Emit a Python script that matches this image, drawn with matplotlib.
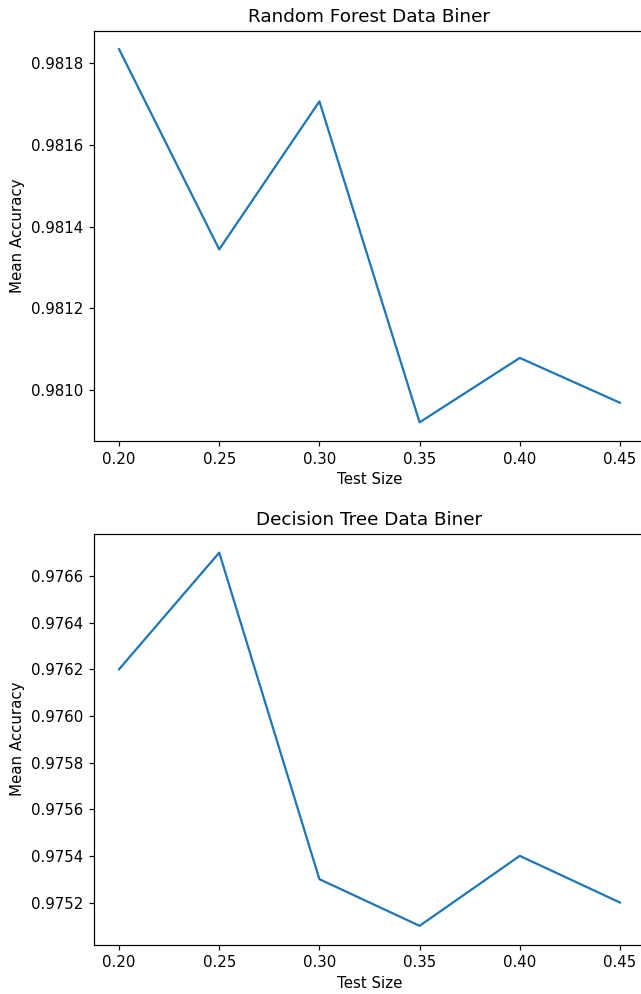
import matplotlib
matplotlib.use("Agg")
import matplotlib.pyplot as plt

test_sizes = [0.20, 0.25, 0.30, 0.35, 0.40, 0.45]
rf_acc = [0.981835, 0.981344, 0.981707, 0.980920, 0.981078, 0.980968]
dt_acc = [0.97620, 0.97670, 0.97530, 0.97510, 0.97540, 0.97520]
titles = ["Random Forest Data Biner", "Decision Tree Data Biner"]

s = 1.08
fig = plt.figure(figsize=(6.41, 9.94), dpi=100)
ax1 = fig.add_axes([94/641, (994-441)/994, 551/641, 410.5/994])
ax2 = fig.add_axes([94/641, (994-944.5)/994, 551/641, 410.5/994])

for ax, acc, t in zip([ax1, ax2], [rf_acc, dt_acc], titles):
    ax.plot(test_sizes, acc, color="#1f77b4", linewidth=1.5*s)
    ax.set_title(t, fontsize=13.2, pad=6*s)
    ax.set_xlabel("Test Size", fontsize=10*s, labelpad=4*s)
    ax.set_ylabel("Mean Accuracy", fontsize=10*s, labelpad=4*s)
    ax.set_xticks(test_sizes)
    ax.set_xticklabels([f"{v:.2f}" for v in test_sizes])
    ax.tick_params(labelsize=10*s, length=3.5*s, width=0.8*s, pad=3.5*s)
    ax.yaxis.set_major_formatter(matplotlib.ticker.FormatStrFormatter("%.4f"))
    for sp in ax.spines.values():
        sp.set_linewidth(0.8*s)

ax1.set_yticks([0.9810, 0.9812, 0.9814, 0.9816, 0.9818])
ax2.set_yticks([0.9752, 0.9754, 0.9756, 0.9758, 0.9760, 0.9762, 0.9764, 0.9766])

fig.savefig("out.png", dpi=100)
